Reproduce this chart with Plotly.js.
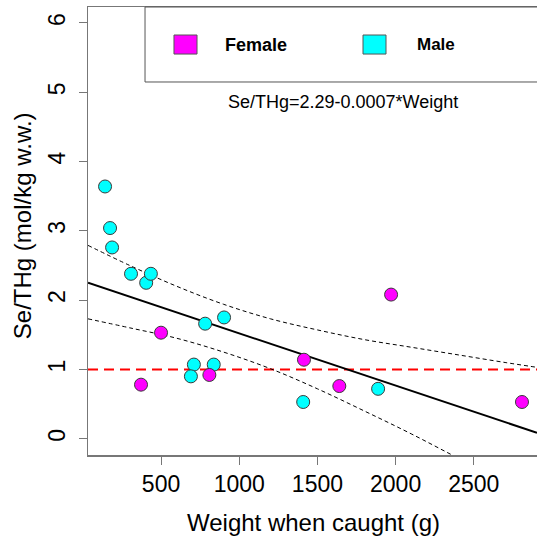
<!DOCTYPE html>
<html>
<head>
<meta charset="utf-8">
<script src="https://cdn.plot.ly/plotly-3.0.1.min.js"></script>
<style>html,body{margin:0;padding:0;background:#fff;overflow:hidden}#chart{width:537px;height:537px}</style>
</head>
<body>
<div id="chart"></div>
<script>
// Female points
var femaleWeight = [372, 500, 809, 1414, 1640, 1971, 2808];
var femaleRatio  = [0.78, 1.53, 0.92, 1.14, 0.76, 2.08, 0.53];
// Male points
var maleWeight = [142, 174, 187, 308, 405, 435, 782, 903, 710, 691, 837, 1409, 1888];
var maleRatio  = [3.64, 3.04, 2.76, 2.38, 2.25, 2.38, 1.66, 1.75, 1.07, 0.90, 1.07, 0.53, 0.72];
// Regression line
var fitWeight = [33, 2904];
var fitRatio  = [2.25, 0.085];
// Confidence band
var bandWeight = [33, 300, 600, 900, 1200, 1500, 1800, 2100, 2400, 2700, 2904];
var bandUpper  = [2.79, 2.50, 2.20, 1.94, 1.73, 1.57, 1.43, 1.32, 1.21, 1.10, 1.03];
var bandLower  = [1.73, 1.60, 1.45, 1.25, 1.01, 0.72, 0.40, 0.07, -0.28, -0.62, -0.86];
// Reference level
var refLevel = 1;
var seriesNames = ["Female", "Male"];
var equationText = "Se/THg=2.29-0.0007*Weight";
var xTitle = "Weight when caught (g)";
var yTitle = "Se/THg (mol/kg w.w.)";
var xTickVals = [500, 1000, 1500, 2000, 2500];
var yTickVals = [0, 1, 2, 3, 4, 5, 6];

var FONT = "Liberation Sans, Arial, sans-serif";
var mk = function(c){ return {symbol:"circle", size:13, color:c, line:{color:"#3a3a3a", width:1}}; };

var traces = [
  {x: bandWeight, y: bandUpper, mode:"lines", line:{color:"#000", width:1, dash:"4px,3px", shape:"spline"}, hoverinfo:"skip"},
  {x: bandWeight, y: bandLower, mode:"lines", line:{color:"#000", width:1, dash:"4px,3px", shape:"spline"}, hoverinfo:"skip"},
  {x: fitWeight, y: fitRatio, mode:"lines", line:{color:"#000", width:2}},
  {x: maleWeight, y: maleRatio, mode:"markers", name:seriesNames[1], marker: mk("#00FFFF")},
  {x: femaleWeight, y: femaleRatio, mode:"markers", name:seriesNames[0], marker: mk("#FF00FF")}
];

var layout = {
  width:537, height:537,
  margin:{l:88, r:0, t:7, b:82},
  paper_bgcolor:"#fff", plot_bgcolor:"#fff",
  showlegend:false,
  font:{family:FONT, color:"#000"},
  xaxis:{
    range:[33, 2904], tickvals:xTickVals, ticks:"outside", ticklen:8, tickcolor:"#777", tickwidth:1,
    showline:true, linecolor:"#777", linewidth:1.5, mirror:true, showgrid:false, zeroline:false,
    tickfont:{size:23, family:FONT, color:"#000"}
  },
  yaxis:{
    range:[-0.235, 6.23], tickvals:yTickVals, ticks:"outside", ticklen:8, tickcolor:"#777", tickwidth:1,
    showline:true, linecolor:"#777", linewidth:1.5, showgrid:false, zeroline:false, tickangle:-90,
    ticklabelstandoff:4,
    tickfont:{size:23, family:FONT, color:"#000"}
  },
  shapes:[
    {type:"line", xref:"paper", yref:"y", x0:0, x1:1, y0:refLevel, y1:refLevel, line:{color:"#FF0000", width:2, dash:"10px,6px"}, layer:"below"},
    {type:"rect", xref:"paper", yref:"paper", x0:0.127, x1:1.05, y0:0.8326, y1:1.0, line:{color:"#555", width:1}, fillcolor:"rgba(0,0,0,0)"},
    {type:"rect", xref:"paper", yref:"paper", x0:0.1915, x1:0.2428, y0:0.895, y1:0.9375, line:{color:"#555", width:1}, fillcolor:"#FF00FF"},
    {type:"rect", xref:"paper", yref:"paper", x0:0.6125, x1:0.6637, y0:0.895, y1:0.9375, line:{color:"#555", width:1}, fillcolor:"#00FFFF"}
  ],
  annotations:[
    {xref:"paper", yref:"paper", x:0.3007, y:0.916, xanchor:"left", yanchor:"middle", showarrow:false, text:"<b>"+seriesNames[0]+"</b>", font:{size:18, family:FONT, color:"#000"}},
    {xref:"paper", yref:"paper", x:0.7283, y:0.916, xanchor:"left", yanchor:"middle", showarrow:false, text:"<b>"+seriesNames[1]+"</b>", font:{size:17, family:FONT, color:"#000"}},
    {xref:"paper", yref:"paper", x:0.568, y:0.788, xanchor:"center", yanchor:"middle", showarrow:false, text:equationText, font:{size:18, family:FONT, color:"#000"}},
    {xref:"paper", yref:"paper", x:0.503, y:-0.1496, xanchor:"center", yanchor:"middle", showarrow:false, text:xTitle, font:{size:24, family:FONT, color:"#000"}},
    {xref:"paper", yref:"paper", x:-0.147, y:0.513, xanchor:"center", yanchor:"middle", textangle:-90, showarrow:false, text:yTitle, font:{size:24, family:FONT, color:"#000"}}
  ]
};

Plotly.newPlot("chart", traces, layout, {staticPlot:true, displayModeBar:false});
</script>
</body>
</html>
